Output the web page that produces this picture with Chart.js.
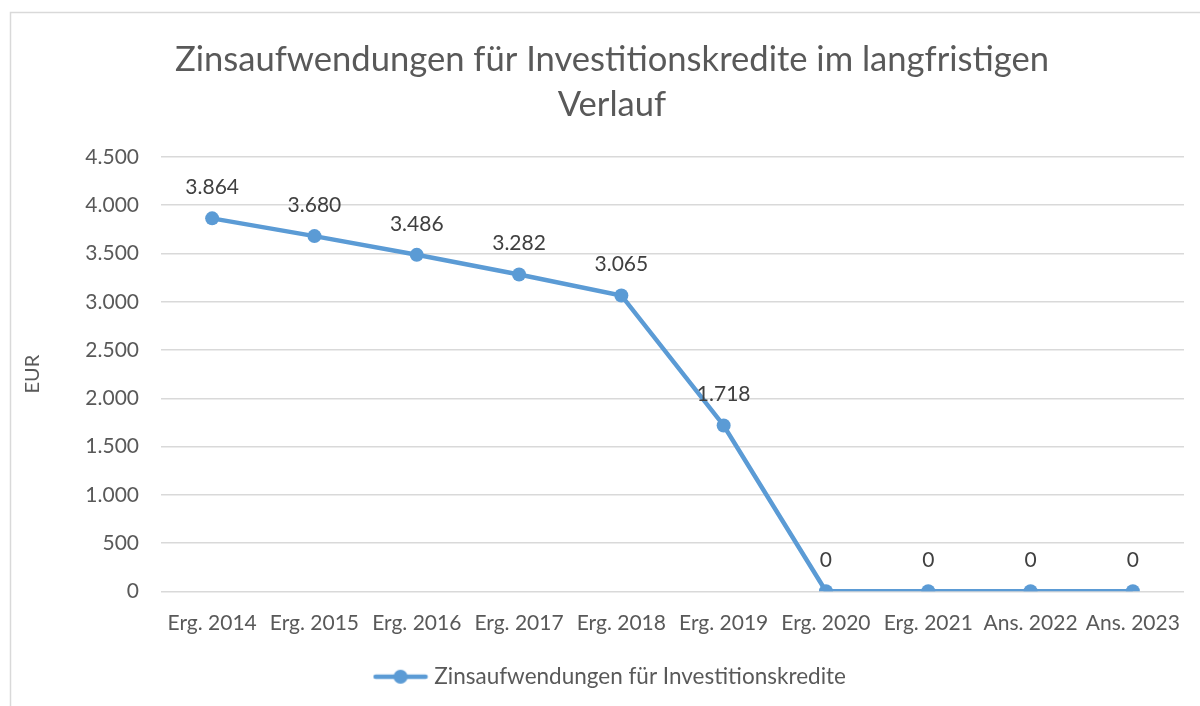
<!DOCTYPE html>
<html>
<head>
<meta charset="utf-8">
<script src="https://cdn.jsdelivr.net/npm/chart.js@4/dist/chart.umd.min.js"></script>
<style>
  html, body { margin: 0; padding: 0; background: #fff; }
  #wrap { width: 1200px; height: 706px; }
</style>
</head>
<body>
<div id="wrap"><canvas id="zinsChart" width="1200" height="706"></canvas></div>
<script>
// Daten aus der Vorlage
const categories = ['Erg. 2014', 'Erg. 2015', 'Erg. 2016', 'Erg. 2017', 'Erg. 2018',
    'Erg. 2019', 'Erg. 2020', 'Erg. 2021', 'Ans. 2022', 'Ans. 2023'];
const zinsValues = [3864, 3680, 3486, 3282, 3065, 1718, 0, 0, 0, 0];
const seriesName = 'Zinsaufwendungen für Investitionskredite';
const chartTitle = ['Zinsaufwendungen für Investitionskredite im langfristigen', 'Verlauf'];

const lineColor = '#5B9BD5';
const textColor = '#595959';
const fontFamily = 'Lato, "Noto Sans", sans-serif';

// 1234 -> "1.234"
function fmt(v) {
    return String(Math.round(v)).replace(/\B(?=(\d{3})+(?!\d))/g, '.');
}

// legend marker: line with a dot in the middle
function legendMarker() {
    const c = document.createElement('canvas');
    c.width = 56;
    c.height = 16;
    const ctx = c.getContext('2d');
    ctx.strokeStyle = lineColor;
    ctx.lineWidth = 4.5;
    ctx.lineCap = 'round';
    ctx.beginPath();
    ctx.moveTo(3, 8);
    ctx.lineTo(53, 8);
    ctx.stroke();
    ctx.fillStyle = lineColor;
    ctx.beginPath();
    ctx.arc(28, 8, 7, 0, Math.PI * 2);
    ctx.fill();
    return c;
}

// frame around the chart like the office export
const framePlugin = {
    id: 'frame',
    beforeDraw(chart) {
        const ctx = chart.ctx;
        ctx.save();
        ctx.fillStyle = '#fff';
        ctx.fillRect(0, 0, chart.width, chart.height);
        ctx.strokeStyle = '#d9d9d9';
        ctx.lineWidth = 1.5;
        ctx.strokeRect(10.5, 12.5, 1400, 900);
        ctx.restore();
    }
};

// value labels above the points
const valueLabels = {
    id: 'valueLabels',
    afterDatasetsDraw(chart) {
        const ctx = chart.ctx;
        ctx.save();
        ctx.font = '21px ' + fontFamily;
        ctx.fillStyle = '#404040';
        ctx.textAlign = 'center';
        ctx.textBaseline = 'middle';
        chart.data.datasets.forEach((ds, i) => {
            chart.getDatasetMeta(i).data.forEach((pt, j) => {
                ctx.fillText(fmt(ds.data[j]), pt.x, pt.y - 31);
            });
        });
        ctx.restore();
    }
};

const ctx = document.getElementById('zinsChart').getContext('2d');
const zinsChart = new Chart(ctx, {
    type: 'line',
    data: {
        labels: categories,
        datasets: [{
            label: seriesName,
            data: zinsValues,
            borderColor: lineColor,
            backgroundColor: lineColor,
            borderWidth: 4.5,
            pointRadius: 7,
            pointHoverRadius: 7,
            pointBackgroundColor: lineColor,
            pointBorderWidth: 0,
            tension: 0,
            fill: false
        }]
    },
    options: {
        responsive: false,
        animation: false,
        layout: {
            padding: { left: 40, right: 16, top: 20, bottom: 8 }
        },
        plugins: {
            title: {
                display: true,
                text: chartTitle,
                color: textColor,
                font: { family: fontFamily, size: 34.6, weight: 'normal', lineHeight: 1.3 },
                padding: { top: 17, bottom: 30 }
            },
            legend: {
                position: 'bottom',
                labels: {
                    usePointStyle: true,
                    pointStyle: legendMarker(),
                    pointStyleWidth: 45,
                    color: textColor,
                    font: { family: fontFamily, size: 22.5 },
                    padding: 11
                }
            },
            tooltip: { enabled: false }
        },
        scales: {
            x: {
                offset: true,
                grid: { display: false, drawTicks: false },
                border: { display: false },
                ticks: {
                    color: textColor,
                    font: { family: fontFamily, size: 21 },
                    padding: 19,
                    maxRotation: 0,
                    autoSkip: false
                }
            },
            y: {
                min: 0,
                max: 4500,
                afterFit(scale) { scale.width = 121; },
                grid: { color: '#d9d9d9', lineWidth: 1.5, drawTicks: false },
                border: { display: false },
                ticks: {
                    stepSize: 500,
                    color: textColor,
                    font: { family: fontFamily, size: 21 },
                    padding: 22,
                    callback: v => fmt(v)
                },
                title: {
                    display: true,
                    text: 'EUR',
                    color: textColor,
                    font: { family: fontFamily, size: 20, lineHeight: 0.8 },
                    padding: { top: -15, bottom: 0 }
                }
            }
        }
    },
    plugins: [framePlugin, valueLabels]
});
</script>
</body>
</html>
